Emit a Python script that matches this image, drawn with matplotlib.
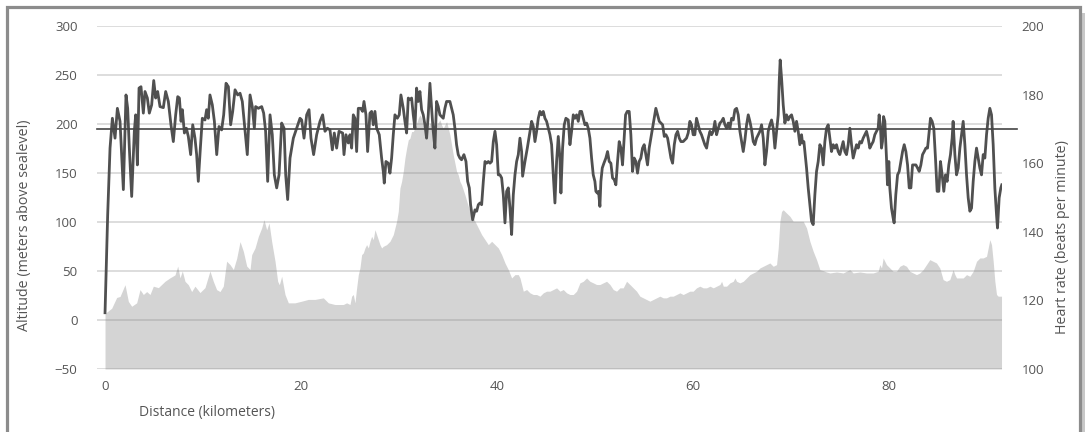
import numpy as np
import matplotlib
matplotlib.use("Agg")
import matplotlib.pyplot as plt
from matplotlib.patches import Rectangle

# heart rate trace (km, bpm)
hr_km = [0.0, 0.27, 0.51, 0.75, 1.02, 1.26, 1.53, 1.70, 1.87, 2.14, 2.31, 2.48, 2.72, 2.99, 3.13, 3.30,
         3.47, 3.67, 3.91, 4.08, 4.32, 4.52, 4.76, 4.97, 5.17, 5.37, 5.61, 5.95, 6.19, 6.46, 6.73, 6.97,
         7.21, 7.42, 7.59, 7.76, 7.89, 8.10, 8.30, 8.50, 8.74, 8.95, 9.18, 9.35, 9.52, 9.73, 9.93, 10.20,
         10.37, 10.54, 10.71, 10.95, 11.16, 11.40, 11.63, 11.90, 12.11, 12.35, 12.59, 12.82, 13.03, 13.27,
         13.54, 13.78, 14.01, 14.29, 14.52, 14.80, 15.03, 15.24, 15.37, 15.65, 15.99, 16.19, 16.39, 16.60,
         16.84, 17.07, 17.28, 17.52, 17.76, 18.03, 18.27, 18.44, 18.64, 18.88, 19.22, 19.56, 19.90, 20.07,
         20.31, 20.58, 20.82, 21.02, 21.29, 21.60, 21.94, 22.21, 22.45, 22.69, 22.96, 23.20, 23.40, 23.64,
         23.88, 24.25, 24.39, 24.59, 24.83, 25.00, 25.17, 25.34, 25.51, 25.68, 25.85, 26.09, 26.29, 26.43,
         26.63, 26.80, 27.04, 27.21, 27.38, 27.55, 27.72, 27.99, 28.23, 28.40, 28.50, 28.67, 28.91, 29.08,
         29.25, 29.42, 29.59, 29.83, 30.03, 30.20, 30.44, 30.61, 30.78, 30.95, 31.12, 31.29, 31.46, 31.63,
         31.80, 31.97, 32.14, 32.31, 32.48, 32.65, 32.82, 32.99, 33.16, 33.33, 33.50, 33.67, 33.84, 34.01,
         34.18, 34.35, 34.52, 34.69, 34.86, 35.03, 35.20, 35.37, 35.54, 35.71, 35.88, 36.05, 36.22, 36.39,
         36.63, 36.84, 37.01, 37.18, 37.31, 37.52, 37.76, 37.93, 38.10, 38.27, 38.44, 38.61, 38.78, 38.95,
         39.12, 39.29, 39.46, 39.63, 39.80, 39.97, 40.14, 40.31, 40.48, 40.65, 40.82, 40.99, 41.16, 41.33,
         41.50, 41.67, 41.84, 42.01, 42.18, 42.35, 42.52, 42.62, 42.86, 43.10, 43.37, 43.54, 43.71, 43.88,
         44.05, 44.22, 44.39, 44.56, 44.73, 44.90, 45.07, 45.24, 45.41, 45.58, 45.75, 45.92, 46.09, 46.26,
         46.43, 46.53, 46.70, 46.87, 47.04, 47.28, 47.45, 47.62, 47.79, 47.96, 48.13, 48.30, 48.47, 48.64,
         48.81, 48.98, 49.15, 49.32, 49.49, 49.66, 49.83, 50.00, 50.10, 50.24, 50.37, 50.51, 50.61, 50.75,
         50.92, 51.12, 51.29, 51.46, 51.63, 51.80, 51.97, 52.14, 52.31, 52.48, 52.65, 52.82, 52.99, 53.13,
         53.30, 53.50, 53.67, 53.84, 54.01, 54.18, 54.35, 54.52, 54.69, 54.86, 55.03, 55.20, 55.37, 55.54,
         55.71, 55.88, 56.05, 56.22, 56.40, 56.57, 56.74, 56.91, 57.08, 57.25, 57.42, 57.59, 57.76, 57.93,
         58.10, 58.27, 58.44, 58.61, 58.78, 59.01, 59.18, 59.35, 59.52, 59.69, 59.86, 60.03, 60.20, 60.37,
         60.54, 60.71, 60.88, 61.05, 61.22, 61.40, 61.57, 61.74, 61.91, 62.08, 62.25, 62.42, 62.59, 62.76,
         62.93, 63.10, 63.27, 63.44, 63.61, 63.78, 63.95, 64.12, 64.29, 64.46, 64.63, 64.80, 64.97, 65.14,
         65.31, 65.48, 65.65, 65.82, 65.99, 66.16, 66.33, 66.50, 66.67, 66.84, 67.01, 67.18, 67.35, 67.52,
         67.69, 67.86, 68.03, 68.20, 68.37, 68.54, 68.71, 68.81, 68.91, 69.05, 69.22, 69.39, 69.56, 69.73,
         69.90, 70.07, 70.24, 70.41, 70.58, 70.75, 70.92, 71.09, 71.19, 71.33, 71.46, 71.60, 71.77, 71.94,
         72.11, 72.28, 72.45, 72.62, 72.79, 72.96, 73.13, 73.30, 73.47, 73.64, 73.81, 73.98, 74.15, 74.32,
         74.49, 74.66, 74.83, 75.00, 75.17, 75.34, 75.51, 75.68, 75.85, 76.02, 76.19, 76.36, 76.53, 76.70,
         76.87, 77.04, 77.21, 77.38, 77.55, 77.72, 77.89, 78.06, 78.23, 78.40, 78.57, 78.74, 78.91, 79.01,
         79.15, 79.25, 79.35, 79.46, 79.59, 79.76, 79.86, 80.00, 80.10, 80.27, 80.44, 80.54, 80.71, 80.89,
         81.06, 81.23, 81.40, 81.57, 81.74, 81.91, 82.08, 82.25, 82.42, 82.59, 82.76, 82.93, 83.10, 83.27,
         83.44, 83.61, 83.78, 83.95, 84.12, 84.25, 84.42, 84.59, 84.76, 84.93, 85.10, 85.27, 85.44, 85.61,
         85.78, 85.95, 86.12, 86.29, 86.46, 86.56, 86.74, 86.91, 87.08, 87.25, 87.42, 87.59, 87.76, 87.93,
         88.10, 88.27, 88.44, 88.61, 88.78, 88.95, 89.12, 89.29, 89.46, 89.63, 89.80, 89.97, 90.14, 90.31,
         90.48, 90.65, 90.82, 90.99, 91.09, 91.26, 91.43, 91.53]
hr_bpm = [116.4, 145.0, 164.4, 173.1, 167.3, 176.0, 172.2, 162.5, 152.3, 179.9, 176.0, 164.4, 150.3, 169.3, 174.1, 159.5,
          181.9, 182.3, 174.6, 180.9, 179.0, 174.6, 177.0, 184.1, 179.0, 180.9, 176.5, 176.2, 180.9, 178.0, 171.2, 166.3,
          174.1, 179.4, 179.0, 172.2, 175.6, 168.8, 170.2, 167.8, 162.5, 171.2, 167.3, 162.5, 154.7, 164.4, 173.1, 172.6,
          175.6, 173.1, 179.9, 177.0, 172.2, 162.5, 170.7, 169.7, 174.1, 183.3, 182.3, 171.2, 175.1, 181.4,
          179.9, 180.4, 178.0, 169.3, 162.5, 179.9, 176.5, 170.2, 176.5, 176.0, 176.5, 174.6, 169.3, 154.7,
          174.1, 168.3, 156.6, 152.8, 156.6, 171.7, 170.2, 156.6, 149.4, 161.5, 167.3, 170.2, 173.1, 172.6,
          167.3, 174.1, 175.6, 167.3, 162.5, 168.3, 172.2, 174.1, 169.3, 170.2, 169.7, 163.9, 168.8, 164.4,
          169.3, 168.8, 162.5, 168.3, 165.9, 168.3, 164.4, 174.1, 173.1, 163.4, 176.0, 176.0, 175.1, 178.0,
          174.1, 163.4, 174.6, 175.1, 171.2, 175.1, 170.2, 168.3, 161.5, 157.6, 154.2, 160.5, 160.0, 157.1,
          161.5, 168.3, 174.1, 173.1, 174.1, 179.9, 176.0, 172.2, 168.8, 179.0, 178.5, 179.0, 174.1, 170.2,
          181.9, 178.0, 180.9, 175.6, 174.1, 171.2, 167.3, 174.1, 183.3, 176.0, 169.3, 164.4, 178.0, 176.5,
          174.1, 173.6, 173.1, 176.0, 178.0, 178.0, 178.0, 176.0, 174.1, 170.2, 165.4, 162.5, 161.5, 161.0,
          162.5, 160.5, 154.7, 152.8, 147.9, 143.5, 146.4, 146.0, 147.9, 148.4, 147.9, 154.7, 160.5, 160.0,
          160.5, 160.0, 160.5, 166.3, 169.3, 165.4, 156.6, 156.6, 155.7, 150.8, 142.6, 151.8, 152.8, 146.9,
          139.2, 150.8, 156.6, 160.5, 162.5, 167.3, 163.4, 156.2, 160.5, 164.4, 169.3, 172.2, 170.7, 166.3,
          169.3, 173.1, 175.1, 174.1, 175.1, 173.1, 172.2, 170.2, 168.3, 165.4, 156.6, 148.4, 160.5, 167.8,
          161.5, 151.3, 164.4, 171.2, 173.1, 172.6, 165.4, 169.3, 174.1, 173.1, 174.1, 172.2, 175.1, 175.1,
          173.1, 171.2, 171.7, 170.2, 167.3, 161.5, 156.6, 154.7, 151.8, 151.3, 151.8, 147.4, 154.7, 158.6,
          160.0, 161.5, 163.4, 160.5, 160.0, 155.7, 155.2, 153.7, 160.5, 166.3, 164.4, 159.5, 167.3, 174.1,
          175.1, 175.1, 168.3, 157.6, 161.5, 160.5, 157.1, 160.5, 161.5, 164.4, 165.4, 162.5, 159.5, 164.4,
          167.3, 170.2, 173.1, 176.0, 174.1, 172.2, 171.7, 171.2, 167.8, 168.3, 167.3, 164.4, 161.5, 160.0,
          165.4, 168.3, 169.3, 167.3, 166.3, 166.3, 166.8, 167.3, 168.8, 172.2, 171.2, 168.3, 168.3, 173.1,
          171.2, 169.3, 168.3, 166.8, 165.4, 164.4, 167.3, 169.3, 168.3, 169.3, 172.2, 168.3, 170.2, 171.7,
          172.2, 173.1, 171.2, 170.2, 171.7, 170.2, 173.1, 172.6, 175.6, 176.0, 174.1, 169.3, 166.3, 163.4,
          166.8, 171.2, 174.1, 172.2, 169.7, 166.3, 165.4, 167.3, 168.3, 169.3, 171.2, 167.3, 159.5, 163.4,
          169.3, 171.2, 172.6, 170.2, 164.4, 169.3, 174.1, 183.8, 190.1, 184.8, 177.0, 171.7, 174.1, 172.6,
          173.6, 174.1, 172.2, 169.3, 172.2, 169.3, 165.4, 168.3, 165.9, 166.3, 162.5, 158.6, 152.8, 147.9,
          143.1, 142.1, 150.8, 157.6, 160.5, 165.4, 164.4, 159.5, 166.3, 170.2, 171.2, 167.3, 163.4, 165.4,
          164.4, 165.4, 163.4, 162.5, 164.4, 166.3, 163.4, 162.5, 165.4, 170.2, 165.4, 161.5, 163.4, 165.4,
          164.4, 166.3, 165.9, 167.3, 168.3, 169.3, 167.3, 164.4, 165.4, 166.3, 168.3, 169.3, 170.2, 174.1,
          170.2, 164.4, 166.3, 173.6, 172.2, 161.5, 153.7, 160.5, 152.8, 146.9, 144.0, 142.6, 150.8, 156.6,
          157.6, 160.5, 163.4, 165.4, 163.4, 159.5, 152.8, 152.8, 159.5, 159.5, 159.5, 158.6, 157.6, 159.5,
          162.5, 163.4, 164.4, 164.4, 169.3, 173.1, 172.2, 170.2, 161.5, 151.8, 151.8, 160.5, 156.6, 151.8,
          156.6, 154.7, 159.5, 162.5, 167.3, 172.2, 162.5, 156.6, 158.6, 164.4, 168.3, 172.2, 165.4, 156.6,
          149.9, 146.0, 146.9, 154.7, 160.5, 164.4, 161.5, 158.6, 156.6, 162.5, 161.5, 168.3, 173.1, 176.0,
          174.1, 165.4, 152.8, 145.0, 141.1, 149.9, 152.8, 153.7]

# altitude profile (km, meters)
alt_km = [0.0, 0.17, 0.68, 1.19, 1.53, 2.04, 2.38, 2.72, 3.23, 3.57, 3.91, 4.25, 4.59, 4.93, 5.44, 6.12,
          6.63, 7.14, 7.42, 7.65, 7.89, 8.16, 8.50, 8.84, 9.18, 9.69, 10.20, 10.71, 11.05, 11.39, 11.73, 12.07,
          12.41, 12.76, 13.10, 13.44, 13.78, 14.12, 14.46, 14.80, 14.97, 15.31, 15.65, 15.99, 16.22, 16.50,
          16.74, 17.01, 17.35, 17.62, 17.79, 18.03, 18.37, 18.71, 19.39, 20.07, 20.75, 21.43, 22.28, 22.79,
          23.47, 23.98, 24.32, 24.66, 25.00, 25.17, 25.34, 25.51, 25.68, 25.85, 26.02, 26.19, 26.36, 26.53,
          26.70, 26.87, 27.04, 27.21, 27.38, 27.55, 27.72, 27.89, 28.06, 28.23, 28.40, 28.74, 29.08, 29.42,
          29.76, 29.93, 30.10, 30.27, 30.44, 30.61, 30.78, 30.95, 31.12, 31.29, 31.46, 31.63, 31.80, 31.97,
          32.14, 32.31, 32.48, 32.65, 32.82, 33.16, 33.50, 33.84, 34.18, 34.35, 34.52, 34.86, 35.20, 35.37,
          35.54, 35.71, 35.88, 36.05, 36.22, 36.39, 36.73, 37.08, 37.41, 37.76, 38.10, 38.44, 38.78, 39.12,
          39.46, 39.80, 40.14, 40.48, 40.82, 41.16, 41.50, 41.84, 42.18, 42.35, 42.52, 42.69, 43.03, 43.37,
          43.71, 44.05, 44.39, 44.73, 45.07, 45.41, 45.75, 46.09, 46.43, 46.77, 47.11, 47.45, 47.79, 48.13,
          48.47, 48.81, 49.15, 49.49, 49.83, 50.17, 50.51, 50.85, 51.19, 51.53, 51.87, 52.21, 52.55, 52.89,
          53.23, 53.57, 53.91, 54.25, 54.59, 54.93, 55.27, 55.61, 55.95, 56.29, 56.63, 56.97, 57.31, 57.65,
          57.99, 58.33, 58.67, 59.01, 59.35, 59.69, 60.03, 60.37, 60.71, 61.05, 61.40, 61.74, 62.08, 62.42,
          62.76, 62.93, 63.10, 63.44, 63.78, 64.12, 64.29, 64.46, 64.80, 65.14, 65.48, 65.82, 66.16, 66.50,
          66.84, 67.18, 67.52, 67.86, 68.20, 68.54, 68.71, 68.88, 69.05, 69.22, 69.56, 69.90, 70.24, 70.58,
          70.92, 71.26, 71.60, 71.94, 72.28, 72.62, 72.96, 73.30, 73.64, 73.98, 74.66, 75.34, 76.02, 76.36,
          77.04, 77.72, 78.40, 78.91, 79.08, 79.25, 79.42, 79.59, 79.76, 80.10, 80.44, 80.78, 81.12, 81.46,
          81.80, 82.14, 82.48, 82.82, 83.16, 83.50, 83.84, 84.18, 84.52, 84.86, 85.20, 85.54, 85.88, 86.22,
          86.56, 86.74, 86.91, 87.25, 87.59, 87.93, 88.27, 88.61, 88.95, 89.29, 89.63, 89.97, 90.14, 90.31,
          90.48, 90.65, 90.82, 90.99, 91.16, 91.50]
alt_m = [6, 8, 12, 23, 24, 36, 19, 14, 17.5, 31, 26, 29, 26, 34.5, 33, 39.5,
         43, 46, 55, 43, 50, 39.5, 36, 29, 34.5, 28, 33, 50, 39.5, 31, 29, 34.5,
         60, 56.5, 51.5, 63, 80, 70, 55, 51.5, 66.7, 73.5, 85.4, 94, 102.4, 92,
         99, 80, 60, 39.5, 36, 44.6, 26, 17.5, 17.5, 19.2, 21, 21, 22.6, 17.5,
         15.8, 15.8, 15.8, 17.5, 15.8, 24.3, 26, 17.5, 32.8, 46.3, 53.1, 66.7, 68.4, 73.5,
         76.9, 73.5, 80.3, 85.4, 82, 92.2, 87.1, 82, 76.9, 73.5, 75.2, 76.9, 80.3, 87.1,
         100.7, 110.8, 134.6, 141.4, 151.6, 165.2, 175.3, 183.8, 185.5, 192.3, 192.3, 195.7, 200.8, 205.9,
         209.3, 205.9, 199.1, 195.7, 194, 200.8, 197.4, 199.1, 204.2, 199.1, 195.7, 202.5, 188.9, 178.7,
         168.6, 160.1, 151.6, 148.2, 141.4, 138, 127.8, 115.9, 107.5, 100.7, 93.9, 87.1, 82, 76.9,
         80.3, 76.9, 73.5, 66.7, 58.2, 51.4, 42.9, 46.3, 46.3, 42.9, 36.2, 29.4, 31.1, 27.7,
         26, 26, 24.3, 27.7, 29.4, 29.4, 31.1, 32.8, 29.4, 31.1, 27.7, 26, 26, 29.4,
         37.9, 39.5, 42.9, 39.5, 37.9, 36.2, 36.2, 37.9, 39.5, 36.2, 31.1, 29.4, 32.8, 32.8,
         39.5, 36.2, 32.8, 29.4, 24.3, 22.6, 20.9, 19.2, 20.9, 22.6, 24.3, 22.6, 22.6, 24.3,
         24.3, 26, 27.7, 26, 27.7, 29.4, 29.4, 32.8, 34.5, 32.8, 32.8, 34.5, 32.8, 34.5,
         36.2, 39.5, 34.5, 34.5, 37.9, 39.5, 42.9, 39.5, 37.9, 39.5, 42.9, 46.3, 48, 49.7,
         53.1, 54.8, 56.5, 58.2, 54.8, 56.5, 73.5, 100.7, 110.8, 112.5, 109.1, 105.8, 100.7, 100.7,
         100.7, 100.7, 93.9, 80.3, 70.1, 61.6, 51.4, 50.4, 49, 48, 49, 48, 51.4, 48,
         49, 48, 48, 49.7, 56.5, 53.1, 63.3, 59.9, 56.5, 53.1, 49.7, 49.7, 54.8, 56.5,
         54.8, 49.7, 48, 46.3, 48, 51.4, 56.5, 61.6, 59.9, 58.2, 53.1, 41.2, 39.5, 41.2,
         51.4, 46.3, 42.9, 42.9, 42.9, 46.3, 44.6, 49.7, 59.9, 63.3, 63.3, 65, 73.5, 82,
         76.9, 59.9, 39.5, 26, 24.3, 24.3]

alt_ticks = [-50, 0, 50, 100, 150, 200, 250, 300]
hr_ticks = [100, 120, 140, 160, 180, 200]
km_ticks = [0, 20, 40, 60, 80]
hr_threshold = 170

plt.rcParams['font.family'] = ['Open Sans', 'DejaVu Sans']
txt = '#555555'

fig = plt.figure(figsize=(10.85, 4.32), dpi=100)
W, H = 1085.0, 432.0
ax = fig.add_axes([97 / W, 1 - 369 / H, 905 / W, 343 / H])
ax2 = ax.twinx()

ax.fill_between(alt_km, alt_m, -50, color='#d4d4d4', lw=0, zorder=1)
ax.set_ylim(-50, 300)
ax.set_xlim(-0.82, 91.55)
ax.set_yticks(alt_ticks)
ax.set_xticks(km_ticks)
ax.grid(True, axis='y', color='#8a8a8a', alpha=0.35, lw=1.2)
ax.set_axisbelow(False)

ax2.plot(hr_km, hr_bpm, color='#505050', lw=2.0, solid_joinstyle='round', zorder=3)
ax2.axhline(hr_threshold, xmin=0, xmax=1.017, color='#444444', lw=1.2, clip_on=False, zorder=4)
ax2.set_ylim(100, 200)
ax2.set_yticks(hr_ticks)

for a in (ax, ax2):
    for s in a.spines.values():
        s.set_visible(False)
ax.tick_params(axis='y', length=0, pad=14, labelsize=9.5, labelcolor=txt)
ax.tick_params(axis='x', length=0, pad=8, labelsize=9.5, labelcolor=txt)
ax2.tick_params(axis='y', length=0, pad=14, labelsize=9.5, labelcolor=txt)

ax.set_ylabel("Altitude (meters above sealevel)", fontsize=10.3, color=txt)
ax.yaxis.set_label_coords(-0.0718, 0.42)
ax2.set_ylabel("Heart rate (beats per minute)", fontsize=10.3, color=txt)
ax2.yaxis.set_label_coords(1.0586, 0.385)
ax.set_xlabel("Distance (kilometers)", fontsize=10, color=txt)
ax.xaxis.set_label_coords(0.1215, -0.105)

# frame with a small shadow on the right
fig.patches.append(Rectangle((1082 / W, -0.05), 3 / W, 1 - 13 / H + 0.05, transform=fig.transFigure,
                             facecolor='#c8c8c8', edgecolor='none'))
fig.patches.append(Rectangle((6.5 / W, -0.05), 1073.5 / W, 1 - 6.5 / H + 0.05, transform=fig.transFigure,
                             facecolor='none', edgecolor='#8c8c8c', lw=2.3))

fig.savefig("out.png", dpi=100)
